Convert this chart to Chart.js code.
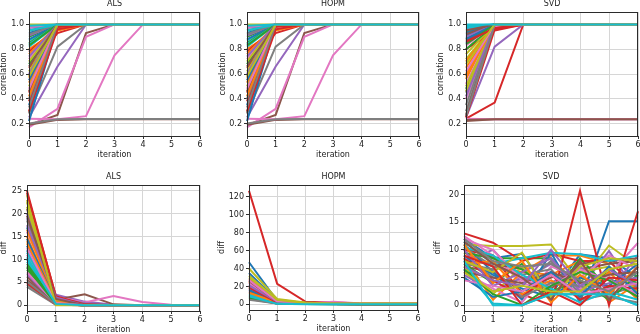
<!DOCTYPE html>
<html>
<head>
<meta charset="utf-8">
<script src="https://cdn.jsdelivr.net/npm/chart.js@4.4.1/dist/chart.umd.min.js"></script>
<style>
body{margin:0;background:#fff;overflow:hidden;width:640px;height:334px;position:relative}
canvas{position:absolute}
</style>
</head>
<body>
<script>
// x categories and tick labels
var iterations = ['0','1','2','3','4','5','6'];
var corrTicks = [0.2,0.4,0.6,0.8,1.0];
var diffTicksALS = [0,5,10,15,20,25];
var diffTicksHOPM = [0,20,40,60,80,100,120];
var diffTicksSVD = [0,5,10,15,20];

// correlation per iteration, one row per run
var corrALS = [
[0.93,1,1,1,1,1,1],[0.57,0.97,1,1,1,1,1],[0.95,1,1,1,1,1,1],[0.65,0.93,1,1,1,1,1],[0.25,0.66,1,1,1,1,1],
[0.19,0.27,0.93,1,1,1,1],[0.17,0.32,0.90,1,1,1,1],[0.28,0.82,1,1,1,1,1],[1,1,1,1,1,1,1],[0.87,1,1,1,1,1,1],
[0.35,1,1,1,1,1,1],[0.80,0.95,1,1,1,1,1],[0.90,1,1,1,1,1,1],[0.78,0.98,1,1,1,1,1],[0.91,1,1,1,1,1,1],
[0.19,0.23,0.235,0.235,0.235,0.235,0.235],[0.24,0.235,0.26,0.75,1,1,1],[0.20,0.235,0.237,0.237,0.237,0.237,0.237],[0.62,1,1,1,1,1,1],[0.82,1,1,1,1,1,1],
[0.88,1,1,1,1,1,1],[0.76,1,1,1,1,1,1],[0.85,1,1,1,1,1,1],[0.45,1,1,1,1,1,1],[0.97,1,1,1,1,1,1],
[0.29,1,1,1,1,1,1],[0.72,1,1,1,1,1,1],[0.92,1,1,1,1,1,1],[0.50,1,1,1,1,1,1],[0.84,1,1,1,1,1,1],
[0.22,1,1,1,1,1,1],[0.53,1,1,1,1,1,1],[0.68,1,1,1,1,1,1],[0.38,0.99,1,1,1,1,1],[0.60,1,1,1,1,1,1],
[0.46,1,1,1,1,1,1],[0.98,1,1,1,1,1,1],[0.40,1,1,1,1,1,1],[0.70,1,1,1,1,1,1],[0.95,1,1,1,1,1,1],
[0.55,1,1,1,1,1,1],[0.42,1,1,1,1,1,1],[0.83,1,1,1,1,1,1],[0.30,0.96,1,1,1,1,1],[0.74,1,1,1,1,1,1],
[0.66,1,1,1,1,1,1],[0.48,1,1,1,1,1,1],[0.33,1,1,1,1,1,1],[0.58,1,1,1,1,1,1],[0.99,1,1,1,1,1,1]
];
var corrHOPM = [
[0.93,1,1,1,1,1,1],[0.57,0.96,1,1,1,1,1],[0.95,1,1,1,1,1,1],[0.65,0.93,1,1,1,1,1],[0.25,0.66,1,1,1,1,1],
[0.19,0.27,0.93,1,1,1,1],[0.17,0.32,0.90,1,1,1,1],[0.28,0.82,1,1,1,1,1],[1,1,1,1,1,1,1],[0.87,1,1,1,1,1,1],
[0.35,1,1,1,1,1,1],[0.80,0.95,1,1,1,1,1],[0.90,1,1,1,1,1,1],[0.78,0.98,1,1,1,1,1],[0.91,1,1,1,1,1,1],
[0.19,0.23,0.235,0.235,0.235,0.235,0.235],[0.24,0.235,0.26,0.75,1,1,1],[0.20,0.235,0.237,0.237,0.237,0.237,0.237],[0.62,1,1,1,1,1,1],[0.82,1,1,1,1,1,1],
[0.88,1,1,1,1,1,1],[0.76,1,1,1,1,1,1],[0.85,1,1,1,1,1,1],[0.45,1,1,1,1,1,1],[0.97,1,1,1,1,1,1],
[0.29,1,1,1,1,1,1],[0.72,1,1,1,1,1,1],[0.92,1,1,1,1,1,1],[0.50,1,1,1,1,1,1],[0.84,1,1,1,1,1,1],
[0.22,1,1,1,1,1,1],[0.53,1,1,1,1,1,1],[0.68,1,1,1,1,1,1],[0.38,0.99,1,1,1,1,1],[0.60,1,1,1,1,1,1],
[0.46,1,1,1,1,1,1],[0.98,1,1,1,1,1,1],[0.40,1,1,1,1,1,1],[0.70,1,1,1,1,1,1],[0.95,1,1,1,1,1,1],
[0.55,1,1,1,1,1,1],[0.42,1,1,1,1,1,1],[0.83,1,1,1,1,1,1],[0.30,0.96,1,1,1,1,1],[0.74,1,1,1,1,1,1],
[0.66,1,1,1,1,1,1],[0.48,1,1,1,1,1,1],[0.33,1,1,1,1,1,1],[0.58,1,1,1,1,1,1],[0.99,1,1,1,1,1,1]
];
var corrSVD = [
[0.91,1,1,1,1,1,1],[0.56,1,1,1,1,1,1],[0.94,1,1,1,1,1,1],[0.24,0.37,1,1,1,1,1],[0.25,0.82,1,1,1,1,1],
[0.22,0.235,0.236,0.236,0.236,0.236,0.236],[0.24,0.235,0.236,0.236,0.236,0.236,0.236],[0.97,1,1,1,1,1,1],[0.72,1,1,1,1,1,1],[0.99,1,1,1,1,1,1],
[0.89,1,1,1,1,1,1],[0.60,1,1,1,1,1,1],[0.48,1,1,1,1,1,1],[0.80,0.95,1,1,1,1,1],[0.86,1,1,1,1,1,1],
[0.23,0.235,0.236,0.236,0.236,0.236,0.236],[0.40,0.98,1,1,1,1,1],[0.45,1,1,1,1,1,1],[0.76,1,1,1,1,1,1],[0.95,1,1,1,1,1,1],
[0.93,1,1,1,1,1,1],[0.65,1,1,1,1,1,1],[0.88,1,1,1,1,1,1],[0.87,0.97,1,1,1,1,1],[0.96,1,1,1,1,1,1],
[0.92,1,1,1,1,1,1],[0.52,1,1,1,1,1,1],[0.30,1,1,1,1,1,1],[0.50,1,1,1,1,1,1],[0.98,1,1,1,1,1,1],
[0.85,1,1,1,1,1,1],[0.58,1,1,1,1,1,1],[0.80,1,1,1,1,1,1],[0.25,0.96,1,1,1,1,1],[0.90,1,1,1,1,1,1],
[0.27,1,1,1,1,1,1],[0.83,1,1,1,1,1,1],[0.35,1,1,1,1,1,1],[0.46,1,1,1,1,1,1],[0.97,1,1,1,1,1,1],
[0.88,1,1,1,1,1,1],[0.70,1,1,1,1,1,1],[0.84,1,1,1,1,1,1],[0.86,0.97,1,1,1,1,1],[0.42,1,1,1,1,1,1],
[0.95,1,1,1,1,1,1],[0.62,1,1,1,1,1,1],[0.26,1,1,1,1,1,1],[0.68,1,1,1,1,1,1],[1,1,1,1,1,1,1]
];

// diff per iteration, one row per run
var diffALS = [
[17,0.6,0,0,0,0,0],[14,0.8,0,0,0,0,0],[8.5,0.3,0,0,0,0,0],[25,1.9,0.1,0,0,0,0],[19,2.3,0.8,0.1,0,0,0],
[21,1.2,2.4,0.2,0,0,0],[16,1.8,0.6,2.0,0.7,0.1,0],[4.5,0.2,0,0,0,0,0],[24,1.0,0,0,0,0,0],[10,0.5,0,0,0,0,0],
[12,0.4,0,0,0,0,0],[15,0.6,0,0,0,0,0],[7.8,0.2,0,0,0,0,0],[5,0.1,0,0,0,0,0],[20,1.5,0.5,0,0,0,0],
[6.3,0.3,0,0,0,0,0],[11,0.5,0,0,0,0,0],[18.5,1.6,0.3,0,0,0,0],[22.5,0.9,0.1,0,0,0,0],[9.5,0.3,0,0,0,0,0],
[13,0.5,0,0,0,0,0],[16.5,0.8,0,0,0,0,0],[9,0.3,0,0,0,0,0],[24.5,2.0,0.2,0,0,0,0],[6.8,0.2,0,0,0,0,0],
[5.6,0.2,0,0,0,0,0],[7.2,0.4,0,0,0,0,0],[4,0.1,0,0,0,0,0],[21.5,0.8,0,0,0,0,0],[11.5,0.4,0,0,0,0,0],
[14.5,0.6,0,0,0,0,0],[13.5,0.7,0,0,0,0,0],[8.2,0.3,0,0,0,0,0],[4.8,0.2,0,0,0,0,0],[17.5,1.7,0,0,0,0,0],
[19.5,1.4,0,0,0,0,0],[12.5,0.5,0,0,0,0,0],[5.2,0.2,0,0,0,0,0],[23,0,0,0,0,0,0],[10.5,0.3,0,0,0,0,0]
];
var diffHOPM = [
[47,4,1,0.5,0.3,0.2,0.2],[25,3,1,0.5,0.3,0.2,0.2],[8,1,0.5,0.3,0.2,0.2,0.2],[127,23,3,2,1,1,1],[22,3,1,0.5,0.3,0.3,0.3],
[18,2,2,1,0.5,0.5,0.5],[15,2,1,3,1,0.5,0.5],[6,1,0.5,0.3,0.2,0.2,0.2],[40,6,2,1,0.5,0.5,0.5],[12,2,0.5,0.3,0.2,0.2,0.2],
[35,4,1,0.5,0.3,0.3,0.3],[20,3,1,0.5,0.3,0.3,0.3],[10,1,0.5,0.3,0.2,0.2,0.2],[28,4,1,0.5,0.3,0.3,0.3],[17,2,1,0.5,0.3,0.3,0.3],
[14,2,1,0.5,0.3,0.3,0.3],[24,3,1,0.5,0.3,0.3,0.3],[9,1,0.5,0.3,0.2,0.2,0.2],[30,5,1.5,0.8,0.5,0.5,0.5],[11,1,0.3,0.2,0.1,0.1,0.1],
[16,2,0.5,0.3,0.2,0.2,0.2],[13,2,0.5,0.3,0.2,0.2,0.2],[7,1,0.3,0.2,0.1,0.1,0.1],[19,2,0.5,0.3,0.2,0.2,0.2],[21,3,1,0.5,0.3,0.3,0.3],
[26,3,1,0.5,0.3,0.3,0.3],[27,3,1,0.5,0.3,0.3,0.3],[5,1,0.3,0.2,0.1,0.1,0.1],[32,5,1.5,0.8,0.5,0.5,0.5],[9,0.5,0.2,0.1,0.1,0.1,0.1]
];
var diffSVD = [
[12.0,8.5,9.3,2.0,9.2,8.5,5.0],[9.5,7.0,6.0,9.0,9.0,7.5,8.0],[10.5,8.5,8.5,8.5,3.0,6.0,4.0],[13.0,11.3,8.0,9.3,8.0,8.0,3.0],[8.0,10.0,4.5,7.5,3.0,9.8,2.0],
[7.0,6.0,2.5,5.0,6.5,7.5,8.0],[12.5,9.0,4.0,2.5,3.0,5.5,11.3],[9.0,5.0,3.5,8.0,2.0,5.0,1.5],[11.0,10.7,10.7,11.0,4.0,10.8,7.0],[6.5,0.3,0.0,2.0,2.0,2.0,0.0],
[11.0,6.0,1.0,9.5,0.5,15.2,15.2],[8.5,1.0,6.0,5.5,8.0,0.5,4.0],[7.5,4.0,7.5,1.0,8.5,3.0,6.0],[10.0,9.0,2.0,0.0,20.7,0.0,17.0],[5.5,2.5,5.0,4.0,7.0,2.5,9.0],
[8.0,7.5,6.5,3.0,7.5,8.0,8.5],[6.0,3.0,0.5,7.0,5.0,9.0,6.5],[10.5,7.0,5.5,6.5,1.0,2.0,3.5],[7.0,2.0,7.0,2.0,6.0,7.0,2.5],[11.5,7.5,8.5,9.5,9.2,8.0,9.0],
[9.0,5.5,3.0,1.5,5.0,3.5,7.5],[7.5,8.0,2.0,4.5,1.5,6.0,1.0],[9.5,8.5,6.5,2.5,4.5,1.0,5.5],[8.5,4.5,1.5,5.5,1.0,3.5,3.0],[10.0,3.5,6.0,8.5,2.5,4.0,5.0],
[6.0,5.0,4.0,6.0,4.0,5.5,6.0],[12.0,10.0,4.5,3.5,6.5,4.5,2.0],[7.5,6.5,1.5,4.0,3.5,1.5,0.5],[8.0,6.0,9.5,1.5,7.0,8.5,8.0],[10.5,9.0,5.5,3.0,0.5,2.5,1.0],
[5.0,1.5,2.5,6.0,1.5,7.0,2.0],[11.0,4.0,8.0,0.5,5.5,2.0,7.0],[6.5,2.0,0.0,3.5,6.0,4.5,1.5],[9.0,7.0,0.0,2.5,0.0,5.0,4.5],[7.0,4.5,3.5,10.0,3.5,6.5,3.5],
[11.5,7.5,5.0,1.0,8.0,1.0,7.0],[4.5,3.5,2.5,5.5,2.0,3.0,4.0],[12.0,8.0,7.0,7.5,4.5,2.5,6.0],[6.0,2.5,3.5,2.5,2.5,6.5,7.5],[8.0,0.0,0.0,2.0,2.0,2.0,0.0]
];

var palette = ['#1f77b4','#ff7f0e','#2ca02c','#d62728','#9467bd','#8c564b','#e377c2','#7f7f7f','#bcbd22','#17becf'];
var FONT = 'DejaVu Sans';

// draws the full box round the plot area, like matplotlib spines
var framePlugin = {
	id: 'frame',
	afterDatasetsDraw: function(chart){
		var a = chart.chartArea, c = chart.ctx;
		c.save();
		c.strokeStyle = '#2b2b2b';
		c.lineWidth = 1;
		c.strokeRect(Math.round(a.left)+0.5, Math.round(a.top)+0.5, Math.round(a.right-a.left)-1, Math.round(a.bottom-a.top));
		c.restore();
	}
};

function panel(p){
	var yW = Math.round(p.yGap + 4.8);
	var xH = 24;
	var left = p.l - yW, top = p.t - 13;
	var cv = document.createElement('canvas');
	cv.width = p.r + 4 - left;
	cv.height = p.b + xH - top;
	cv.style.left = left + 'px';
	cv.style.top = top + 'px';
	document.body.appendChild(cv);

	var datasets = p.rows.map(function(row, i){
		return {
			data: row,
			borderColor: palette[i % 10],
			borderWidth: 2,
			pointRadius: 0,
			fill: false,
			tension: 0,
			order: -i
		};
	});

	new Chart(cv, {
		type: 'line',
		data: { labels: iterations, datasets: datasets },
		plugins: [framePlugin],
		options: {
			responsive: false,
			animation: false,
			devicePixelRatio: 1,
			events: [],
			layout: { padding: { top: 0, left: 0, right: 4, bottom: 0 } },
			plugins: {
				legend: { display: false },
				tooltip: { enabled: false },
				title: {
					display: true, text: p.title, fullSize: false, color: '#222',
					font: { family: FONT, size: 8, weight: 'normal', lineHeight: 1.2 },
					padding: { top: 0, bottom: 3.4 }
				}
			},
			scales: {
				x: {
					offset: false,
					grid: { color: '#d6d6d6', lineWidth: 1, tickLength: 3, tickColor: '#333', offset: false },
					border: { display: false },
					ticks: { color: '#222', font: { family: FONT, size: 8 }, padding: 1, maxRotation: 0, autoSkip: false },
					title: { display: true, text: 'iteration', color: '#222', font: { family: FONT, size: 8, lineHeight: 1.2 }, padding: { top: 0, bottom: 0 } },
					afterFit: function(s){ s.height = xH; }
				},
				y: {
					min: p.min, max: p.max,
					grid: { color: '#d6d6d6', lineWidth: 1, tickLength: 3, tickColor: '#333' },
					border: { display: false },
					ticks: { color: '#222', font: { family: FONT, size: 8 }, padding: 2, callback: p.fmt },
					title: { display: true, text: p.yLabel, color: '#222', font: { family: FONT, size: 8, lineHeight: 1.2 }, padding: { top: 0, bottom: 0 } },
					afterBuildTicks: function(s){ s.ticks = p.ticks.map(function(v){ return { value: v }; }); },
					afterFit: function(s){ s.width = yW; }
				}
			}
		}
	});
}

function fmt1(v){ return v.toFixed(1); }
function fmt0(v){ return String(v); }

panel({ title: 'ALS', rows: corrALS, ticks: corrTicks, min: 0.1, max: 1.1, fmt: fmt1, yLabel: 'correlation', l: 29, r: 200, t: 12, b: 136, yGap: 25 });
panel({ title: 'HOPM', rows: corrHOPM, ticks: corrTicks, min: 0.1, max: 1.1, fmt: fmt1, yLabel: 'correlation', l: 247, r: 419, t: 12, b: 136, yGap: 24 });
panel({ title: 'SVD', rows: corrSVD, ticks: corrTicks, min: 0.1, max: 1.1, fmt: fmt1, yLabel: 'correlation', l: 466, r: 638, t: 12, b: 136, yGap: 25 });
panel({ title: 'ALS', rows: diffALS, ticks: diffTicksALS, min: -1.25, max: 26.25, fmt: fmt0, yLabel: 'diff', l: 27, r: 200, t: 185, b: 311, yGap: 23 });
panel({ title: 'HOPM', rows: diffHOPM, ticks: diffTicksHOPM, min: -6.35, max: 133.35, fmt: fmt0, yLabel: 'diff', l: 249, r: 418, t: 185, b: 310, yGap: 27 });
panel({ title: 'SVD', rows: diffSVD, ticks: diffTicksSVD, min: -1.04, max: 21.74, fmt: fmt0, yLabel: 'diff', l: 464, r: 638, t: 185, b: 311, yGap: 26 });
</script>
</body>
</html>
